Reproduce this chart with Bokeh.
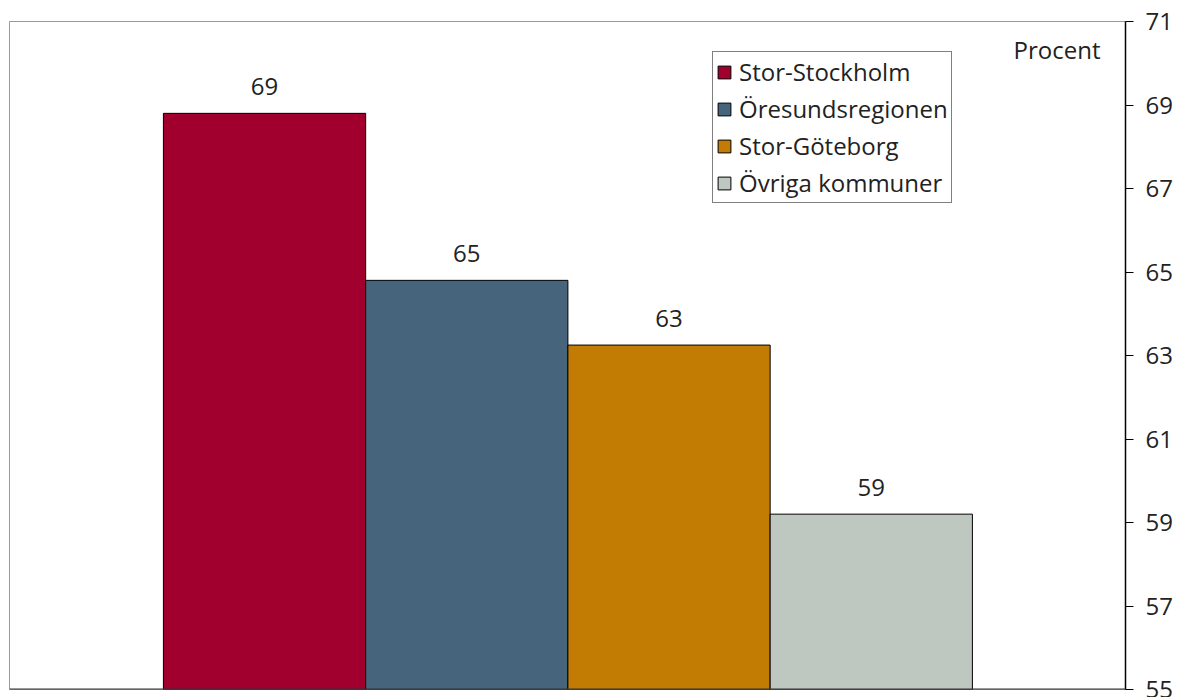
from bokeh.plotting import figure
from bokeh.models import (ColumnDataSource, FixedTicker, LinearAxis, Range1d, Span,
                          Label, LabelSet, Legend, LegendItem)
from bokeh.core.properties import value
from bokeh.embed import file_html
from bokeh.resources import INLINE

categories = ["Stor-Stockholm", "Öresundsregionen", "Stor-Göteborg", "Övriga kommuner"]
values = [68.8, 64.8, 63.25, 59.2]
value_labels = ["69", "65", "63", "59"]
colors = ["#A1002F", "#47647D", "#C27C04", "#BEC8C0"]
y_ticks = [55, 57, 59, 61, 63, 65, 67, 69, 71]

FONT = "Open Sans"
FS = "24px"
positions = [1, 2, 3, 4]

src = ColumnDataSource(dict(x=positions, top=values, cat=categories,
                            color=colors, lab=value_labels))

p = figure(width=1177, height=697, output_backend="svg", toolbar_location=None,
           x_range=Range1d(-0.261, 5.257), y_range=Range1d(55, 71),
           y_axis_location=None, x_axis_location=None,
           min_border_left=9, min_border_top=21, min_border_bottom=8, min_border_right=52)
p.xgrid.visible = False
p.ygrid.visible = False
p.outline_line_color = "#999999"
p.outline_line_width = 1
p.background_fill_color = "white"
p.border_fill_color = "white"

r = p.vbar(x="x", top="top", bottom=55, width=1.0, source=src,
           fill_color="color", line_color="black", line_width=1)

yaxis = LinearAxis(ticker=FixedTicker(ticks=y_ticks))
yaxis.axis_line_color = "black"
yaxis.axis_line_width = 1.5
yaxis.major_tick_line_color = "black"
yaxis.major_tick_out = 8
yaxis.major_tick_in = 0
yaxis.minor_tick_line_color = None
yaxis.major_label_text_font = FONT
yaxis.major_label_text_font_size = FS
yaxis.major_label_text_color = "#222222"
yaxis.major_label_standoff = 12
p.add_layout(yaxis, "right")

p.add_layout(Span(location=55, dimension="width", line_color="#333333", line_width=2))

labels = LabelSet(x="x", y="top", text="lab", source=src, text_align="center",
                  text_baseline="bottom", y_offset=18, text_font=value(FONT),
                  text_font_size=value(FS), text_color="#222222")
p.add_layout(labels)

p.add_layout(Label(x=1091, y=640, x_units="screen", y_units="screen", text="Procent",
                   text_align="right", text_baseline="middle", text_font=FONT,
                   text_font_size=FS, text_color="#222222"))

items = [LegendItem(label=c, renderers=[r], index=i) for i, c in enumerate(categories)]
legend = Legend(items=items, location=(703, 486))
legend.border_line_color = "black"
legend.border_line_width = 1
legend.background_fill_color = "white"
legend.background_fill_alpha = 1
legend.label_text_font = FONT
legend.label_text_font_size = FS
legend.label_text_color = "#222222"
legend.glyph_width = 16
legend.glyph_height = 16
legend.label_height = 30
legend.spacing = 4
legend.padding = 3
legend.margin = 0
legend.label_standoff = 7
p.add_layout(legend, "center")

open("out.html", "w").write(file_html(p, INLINE))
